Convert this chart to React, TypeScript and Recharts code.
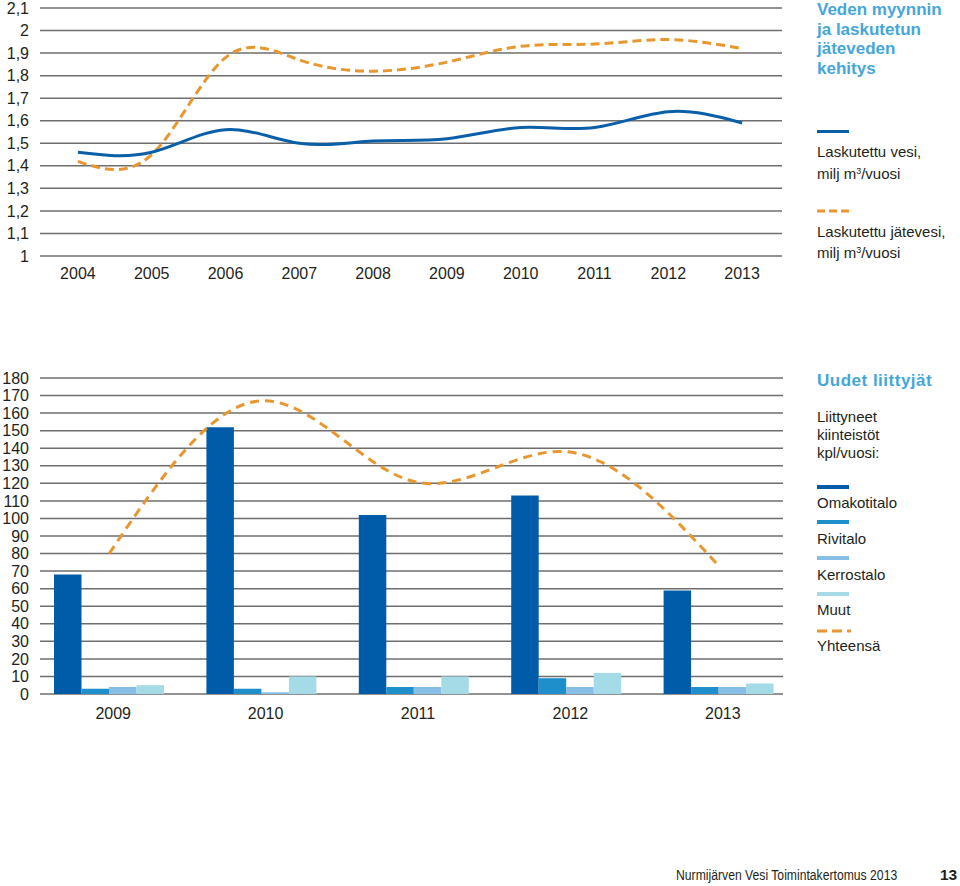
import React from "react";
import {
  Bar,
  CartesianGrid,
  ComposedChart,
  Line,
  XAxis,
  YAxis,
} from "recharts";

// Veden myynti ja laskutettu jätevesi, milj m3/vuosi
const years = ["2004", "2005", "2006", "2007", "2008", "2009", "2010", "2011", "2012", "2013"];
const laskutettuVesi = [1.46, 1.46, 1.56, 1.5, 1.51, 1.52, 1.57, 1.57, 1.64, 1.59];
const laskutettuJatevesi = [1.42, 1.45, 1.88, 1.87, 1.82, 1.86, 1.93, 1.94, 1.96, 1.92];
const topTicks = [1, 1.1, 1.2, 1.3, 1.4, 1.5, 1.6, 1.7, 1.8, 1.9, 2, 2.1];

// Uudet liittyjät, kpl/vuosi
const liittyjaVuodet = ["2009", "2010", "2011", "2012", "2013"];
const omakotitalo = [68, 152, 102, 113, 59];
const rivitalo = [3, 3, 4, 9, 4];
const kerrostalo = [4, 1, 4, 4, 4];
const muut = [5, 10, 10, 12, 6];
const yhteensa = [80, 167, 121, 138, 73];
const bottomTicks = [0, 10, 20, 30, 40, 50, 60, 70, 80, 90, 100, 110, 120, 130, 140, 150, 160, 170, 180];

const BLUE = "#0b5ea8";
const ORANGE = "#e8962f";
const TITLE = "#45a6da";
const TEXT = "#231f20";
const GRID = "#6e6e6e";
const FONT = "'Liberation Sans', Arial, Helvetica, sans-serif";

const topData = years.map((year, i) => ({
  year,
  vesi: laskutettuVesi[i],
  jatevesi: laskutettuJatevesi[i],
}));

const bottomData = liittyjaVuodet.map((year, i) => ({
  year,
  omakotitalo: omakotitalo[i],
  rivitalo: rivitalo[i],
  kerrostalo: kerrostalo[i],
  muut: muut[i],
  yhteensa: yhteensa[i],
}));

const tickStyle = { fontSize: 16, fill: TEXT, fontFamily: FONT };
const commaFmt = (v: number) => String(v).replace(".", ",");

const abs = (left: number, top: number): React.CSSProperties => ({
  position: "absolute",
  left,
  top,
});

const supStyle: React.CSSProperties = { fontSize: 9, lineHeight: 0, verticalAlign: "5px" };

function TextLine({ top, children, bold, color, size, spacing }: any) {
  return (
    <div
      style={{
        ...abs(817, top - 11),
        lineHeight: "22px",
        fontSize: size ?? 15,
        fontWeight: bold ? 700 : 400,
        color: color ?? TEXT,
        letterSpacing: spacing ?? 0,
        whiteSpace: "nowrap",
      }}
    >
      {children}
    </div>
  );
}

function Swatch({ top, color, dashed, height = 4 }: any) {
  if (dashed) {
    return (
      <svg style={abs(817, top - 3)} width={34} height={6}>
        <line x1={0} y1={3} x2={34} y2={3} stroke={color} strokeWidth={3} strokeDasharray={dashed} />
      </svg>
    );
  }
  return (
    <div style={{ ...abs(817, top - height / 2), width: 32, height, background: color }} />
  );
}

export default function App() {
  return (
    <div
      style={{
        position: "absolute",
        left: 0,
        top: 0,
        width: 960,
        height: 886,
        background: "#fff",
        fontFamily: FONT,
        overflow: "hidden",
      }}
    >
      {/* Yläkaavio */}
      <div style={abs(0, 0)}>
        <ComposedChart
          width={800}
          height={290}
          data={topData}
          margin={{ top: 8, right: 18, bottom: 4, left: 0 }}
        >
          <CartesianGrid vertical={false} stroke={GRID} strokeWidth={1.5} />
          <XAxis
            dataKey="year"
            scale="band"
            padding={{ left: 1, right: 3 }}
            axisLine={false}
            tickLine={false}
            tickSize={0}
            tickMargin={12}
            height={30}
            tick={tickStyle}
            interval={0}
          />
          <YAxis
            domain={[1, 2.1]}
            ticks={topTicks}
            width={40}
            axisLine={false}
            tickLine={false}
            tickSize={0}
            tickMargin={11}
            tick={tickStyle}
            tickFormatter={commaFmt}
            interval={0}
          />
          <Line
            type="natural"
            dataKey="jatevesi"
            stroke={ORANGE}
            strokeWidth={3}
            strokeDasharray="9 5"
            dot={false}
            isAnimationActive={false}
          />
          <Line
            type="natural"
            dataKey="vesi"
            stroke={BLUE}
            strokeWidth={3}
            dot={false}
            isAnimationActive={false}
          />
        </ComposedChart>
      </div>

      {/* Yläkaavion selite */}
      <div style={{ ...abs(817, 0), width: 143, fontSize: 17, fontWeight: 700, color: TITLE, lineHeight: "19.5px" }}>
        Veden myynnin
        <br />
        ja laskutetun
        <br />
        jäteveden
        <br />
        kehitys
      </div>
      <Swatch top={131} color={BLUE} height={3} />
      <TextLine top={152}>Laskutettu vesi,</TextLine>
      <TextLine top={174}>
        milj m<sup style={supStyle}>3</sup>/vuosi
      </TextLine>
      <Swatch top={211} color={ORANGE} dashed="8 4" />
      <TextLine top={232}>Laskutettu jätevesi,</TextLine>
      <TextLine top={253}>
        milj m<sup style={supStyle}>3</sup>/vuosi
      </TextLine>

      {/* Alakaavio */}
      <div style={abs(0, 360)}>
        <ComposedChart
          width={800}
          height={374}
          data={bottomData}
          margin={{ top: 18, right: 17, bottom: 0, left: 0 }}
          barGap={0}
        >
          <CartesianGrid vertical={false} stroke={GRID} strokeWidth={1.5} />
          <XAxis
            dataKey="year"
            scale="band"
            padding={{ left: -7, right: -12 }}
            axisLine={false}
            tickLine={false}
            tickSize={0}
            tickMargin={14}
            height={40}
            tick={{ ...tickStyle, dx: 4 }}
            interval={0}
          />
          <YAxis
            domain={[0, 180]}
            ticks={bottomTicks}
            width={40}
            axisLine={false}
            tickLine={false}
            tickSize={0}
            tickMargin={11}
            tick={tickStyle}
            interval={0}
          />
          <Bar dataKey="omakotitalo" fill="#005ca8" barSize={27.5} isAnimationActive={false} />
          <Bar dataKey="rivitalo" fill="#1f8fcc" barSize={27.5} isAnimationActive={false} />
          <Bar dataKey="kerrostalo" fill="#86bee6" barSize={27.5} isAnimationActive={false} />
          <Bar dataKey="muut" fill="#a5dbe6" barSize={27.5} isAnimationActive={false} />
          <Line
            type="natural"
            dataKey="yhteensa"
            stroke={ORANGE}
            strokeWidth={3}
            strokeDasharray="9 6"
            dot={false}
            isAnimationActive={false}
          />
        </ComposedChart>
      </div>

      {/* Alakaavion selite */}
      <TextLine top={381} bold color={TITLE} size={17} spacing={0.5}>
        Uudet liittyjät
      </TextLine>
      <div style={{ ...abs(817, 408), lineHeight: "18px", fontSize: 15, color: TEXT }}>
        Liittyneet
        <br />
        kiinteistöt
        <br />
        kpl/vuosi:
      </div>
      <Swatch top={487} color="#005ca8" />
      <TextLine top={503}>Omakotitalo</TextLine>
      <Swatch top={522} color="#1f8fcc" />
      <TextLine top={539}>Rivitalo</TextLine>
      <Swatch top={558} color="#86bee6" />
      <TextLine top={575}>Kerrostalo</TextLine>
      <Swatch top={594} color="#a5dbe6" />
      <TextLine top={610}>Muut</TextLine>
      <Swatch top={631} color={ORANGE} dashed="10 5" />
      <TextLine top={646}>Yhteensä</TextLine>

      {/* Alatunniste */}
      <div
        style={{
          position: "absolute",
          right: 63,
          top: 865,
          lineHeight: "20px",
          fontSize: 14,
          color: TEXT,
          whiteSpace: "nowrap",
          transform: "scaleX(0.87)",
          transformOrigin: "right center",
        }}
      >
        Nurmijärven Vesi Toimintakertomus 2013
      </div>
      <div
        style={{
          position: "absolute",
          left: 940,
          top: 865,
          lineHeight: "20px",
          fontSize: 15.5,
          fontWeight: 700,
          color: TEXT,
        }}
      >
        13
      </div>
    </div>
  );
}
